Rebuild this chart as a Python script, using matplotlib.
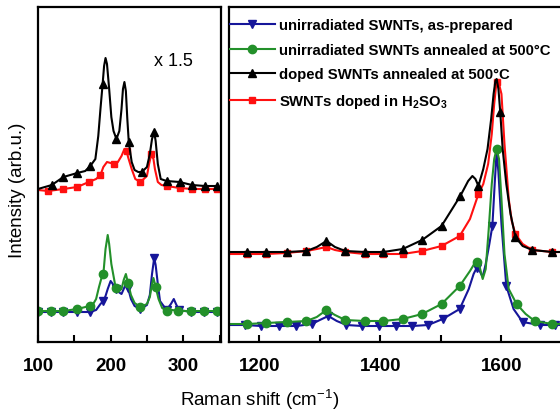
import numpy as np
import matplotlib
matplotlib.use('Agg')
import matplotlib.pyplot as plt
from matplotlib.ticker import MultipleLocator

plt.rcParams['font.family'] = ['Liberation Sans', 'DejaVu Sans']
plt.rcParams['mathtext.fontset'] = 'custom'
plt.rcParams['mathtext.rm'] = 'Liberation Sans'
plt.rcParams['mathtext.bf'] = 'Liberation Sans:bold'

# --- DATA (arbitrary intensity units) ---
# low-frequency (RBM) region, x 1.5
blk_lo_x = [100, 119, 135, 154, 165, 172, 179, 183, 186, 189, 191, 193, 195, 198, 201, 204, 208, 212,
            215, 217, 219, 221, 223, 225, 229, 233, 238, 243, 250, 254, 257, 260, 262, 265, 269, 277,
            295, 312, 330, 347, 350]
blk_lo_y = [153, 157, 165, 169, 171, 176, 183, 206, 233, 258, 276, 284, 278, 253, 225, 211, 203, 211,
            233, 253, 260, 251, 223, 200, 180, 172, 170, 170, 175, 188, 203, 210, 201, 178, 163, 161,
            160, 157, 156, 156, 155]
blk_lo_mk = [119, 135, 154, 172, 189, 208, 225, 243, 260, 277, 295, 312, 330, 347]

red_lo_x = [100, 114, 135, 154, 170, 180, 186, 190, 195, 200, 204, 210, 215, 219, 222, 224, 229, 234,
            241, 250, 253, 256, 259, 261, 265, 270, 277, 295, 312, 330, 347, 350]
red_lo_y = [152, 151, 153, 155, 160, 163, 167, 175, 180, 179, 178, 180, 186, 193, 191, 185, 173, 163,
            160, 166, 178, 188, 183, 173, 160, 157, 156, 154, 153, 153, 153, 153]
red_lo_mk = [114, 135, 154, 170, 186, 204, 222, 241, 256, 277, 295, 312, 330, 347]

grn_lo_x = [100, 118, 135, 154, 171, 176, 180, 184, 187, 190, 193, 196, 198, 201, 207, 211, 215, 218,
            221, 224, 228, 233, 241, 250, 254, 257, 259, 262, 266, 271, 277, 285, 293, 311, 328, 346, 350]
grn_lo_y = [31, 31, 31, 33, 36, 38, 43, 55, 63, 68, 93, 107, 98, 78, 54, 51, 53, 62,
            68, 59, 47, 39, 35, 38, 45, 58, 64, 55, 43, 34, 31, 32, 31, 31, 31, 31, 31]
grn_lo_mk = [100, 118, 135, 154, 171, 190, 207, 224, 241, 262, 277, 293, 311, 328, 346]

blu_lo_x = [100, 118, 135, 154, 172, 180, 186, 190, 193, 196, 200, 203, 207, 211, 215, 218, 221, 224,
            228, 233, 241, 250, 254, 257, 260, 262, 265, 268, 277, 283, 287, 290, 294, 311, 328, 346, 350]
blu_lo_y = [30, 30, 30, 30, 30, 32, 38, 41, 46, 53, 61, 58, 53, 50, 48, 53, 58, 54,
            43, 36, 33, 37, 47, 68, 84, 77, 58, 41, 32, 38, 43, 38, 32, 30, 30, 30, 30]
blu_lo_mk = [100, 118, 135, 154, 172, 190, 207, 224, 241, 260, 277, 294, 311, 328, 346]

# high-frequency (D / G band) region
blk_hi_x = [1150, 1180, 1211, 1245, 1278, 1295, 1311, 1325, 1342, 1374, 1405, 1437, 1469, 1501, 1532,
            1545, 1552, 1557, 1562, 1570, 1577, 1583, 1587, 1590, 1592, 1595, 1598, 1602, 1608, 1615,
            1623, 1635, 1651, 1684, 1700]
blk_hi_y = [90, 90, 90, 90, 91, 95, 101, 95, 91, 90, 90, 93, 102, 116, 146,
            161, 166, 163, 156, 173, 193, 223, 248, 261, 263, 253, 230, 193, 158, 128,
            105, 96, 92, 90, 90]
blk_hi_mk = [1180, 1211, 1245, 1278, 1311, 1342, 1374, 1405, 1437, 1469, 1501, 1532, 1562, 1598,
             1623, 1651, 1684]

red_hi_x = [1150, 1180, 1211, 1245, 1278, 1295, 1311, 1325, 1342, 1374, 1405, 1437, 1469, 1501, 1531,
            1548, 1562, 1570, 1578, 1584, 1588, 1591, 1593, 1596, 1600, 1605, 1612, 1617, 1623, 1635,
            1651, 1684, 1700]
red_hi_y = [88, 88, 88, 89, 91, 93, 95, 92, 90, 88, 88, 88, 91, 96, 106,
            123, 148, 158, 178, 208, 238, 255, 260, 258, 248, 198, 143, 121, 108, 98,
            92, 90, 90]
red_hi_mk = [1180, 1211, 1245, 1278, 1311, 1342, 1374, 1405, 1437, 1469, 1501, 1531, 1562, 1593,
             1623, 1651, 1684]

grn_hi_x = [1150, 1180, 1211, 1245, 1278, 1295, 1311, 1325, 1342, 1374, 1405, 1437, 1469, 1501, 1531,
            1548, 1555, 1559, 1564, 1569, 1574, 1579, 1584, 1588, 1592, 1596, 1600, 1605, 1612, 1625,
            1640, 1655, 1684, 1700]
grn_hi_y = [18, 18, 19, 20, 21, 25, 32, 27, 22, 21, 21, 23, 28, 38, 56,
            71, 78, 80, 75, 63, 73, 113, 158, 183, 193, 183, 143, 88, 53, 38,
            28, 21, 18, 18]
grn_hi_mk = [1180, 1211, 1245, 1278, 1311, 1342, 1374, 1405, 1437, 1469, 1501, 1531, 1559, 1592,
             1625, 1655, 1684]

blu_hi_x = [1150, 1176, 1203, 1233, 1261, 1287, 1300, 1314, 1328, 1344, 1370, 1397, 1425, 1453, 1479,
            1503, 1531, 1546, 1554, 1559, 1564, 1569, 1574, 1580, 1585, 1589, 1592, 1595, 1600, 1608,
            1620, 1635, 1663, 1688, 1700]
blu_hi_y = [17, 17, 16, 16, 16, 18, 22, 26, 21, 17, 16, 16, 16, 16, 17,
            23, 33, 53, 68, 74, 71, 65, 78, 98, 116, 160, 190, 170, 118, 56,
            33, 20, 17, 17, 17]
blu_hi_mk = [1176, 1203, 1233, 1261, 1287, 1314, 1344, 1370, 1397, 1425, 1453, 1479, 1503, 1531,
             1559, 1585, 1608, 1635, 1663, 1688]

labels = ['unirradiated SWNTs, as-prepared',
          'unirradiated SWNTs annealed at 500°C',
          'doped SWNTs annealed at 500°C',
          r'SWNTs doped in H$_\mathbf{2}$SO$_\mathbf{3}$']

# --- STYLES ---
c_blu, c_grn, c_blk, c_red = '#16169a', '#23902a', 'black', '#ff1010'
sty = {
    'blu': dict(color=c_blu, marker='v', ms=6),
    'grn': dict(color=c_grn, marker='o', ms=6),
    'blk': dict(color=c_blk, marker='^', ms=6),
    'red': dict(color=c_red, marker='s', ms=5),
}


def draw(ax, x, y, mk, key, label=None):
    x = np.array(x)
    idx = list(np.nonzero(np.isin(x, mk))[0])
    ln, = ax.plot(x, y, lw=1.5, markevery=idx, label=label, **sty[key])
    return ln


fig = plt.figure(figsize=(5.6, 4.14), dpi=100)
ax1 = fig.add_axes([38 / 560, 1 - 343 / 414, (221 - 38) / 560, (343 - 8) / 414])
ax2 = fig.add_axes([229 / 560, 1 - 343 / 414, (562 - 229) / 560, (343 - 8) / 414])

draw(ax1, blu_lo_x, blu_lo_y, blu_lo_mk, 'blu')
draw(ax1, grn_lo_x, grn_lo_y, grn_lo_mk, 'grn')
draw(ax1, red_lo_x, red_lo_y, red_lo_mk, 'red')
draw(ax1, blk_lo_x, blk_lo_y, blk_lo_mk, 'blk')

h_blu = draw(ax2, blu_hi_x, blu_hi_y, blu_hi_mk, 'blu', labels[0])
h_grn = draw(ax2, grn_hi_x, grn_hi_y, grn_hi_mk, 'grn', labels[1])
h_red = draw(ax2, red_hi_x, red_hi_y, red_hi_mk, 'red', labels[3])
h_blk = draw(ax2, blk_hi_x, blk_hi_y, blk_hi_mk, 'blk', labels[2])

ax1.set_xlim(100, 352)
ax2.set_xlim(1150, 1700)
ax1.xaxis.set_major_locator(MultipleLocator(100))
ax1.xaxis.set_minor_locator(MultipleLocator(50))
ax2.xaxis.set_major_locator(MultipleLocator(200))
ax2.xaxis.set_minor_locator(MultipleLocator(100))
for ax in (ax1, ax2):
    ax.set_ylim(0, 335)
    ax.set_yticks([])
    for s in ax.spines.values():
        s.set_linewidth(1.6)
    ax.tick_params(axis='x', which='both', direction='in', length=5, width=1.5,
                   labelsize=13.5, pad=11)
    for t in ax.get_xticklabels():
        t.set_fontweight('bold')

ax1.text(286, 282, 'x 1.5', fontsize=13, ha='center', va='center')

ax2.legend(handles=[h_blu, h_grn, h_blk, h_red], loc='upper left', bbox_to_anchor=(-0.006, 0.976),
           frameon=False, borderaxespad=0, borderpad=0.2, handlelength=3.0, handletextpad=0.3,
           labelspacing=0.72, prop={'weight': 'bold', 'size': 10.7})

fig.text(18 / 560, 1 - 190 / 414, 'Intensity (arb.u.)', rotation=90, fontsize=13.5,
         ha='center', va='center')
fig.text(260 / 560, 1 - 400 / 414, r'Raman shift (cm$^{\mathregular{-1}}$)', fontsize=13.5,
         ha='center', va='center')

fig.savefig('out.png', dpi=100)
